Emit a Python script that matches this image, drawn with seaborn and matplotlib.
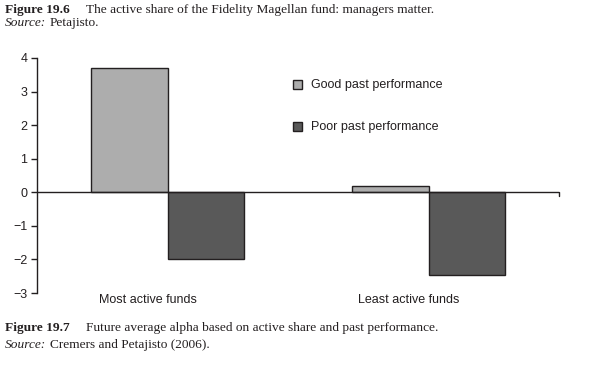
import matplotlib
matplotlib.use("Agg")
import matplotlib.pyplot as plt
import matplotlib.transforms as mtransforms
import seaborn as sns
import pandas as pd
from matplotlib.text import Annotation

categories = ["Most active funds", "Least active funds"]
series = ["Good past performance", "Poor past performance"]
good_values = [3.7, 0.2]
poor_values = [-2.0, -2.45]
y_ticks = [-3, -2, -1, 0, 1, 2, 3, 4]

df = pd.DataFrame({
    "category": categories * 2,
    "series": [series[0]] * 2 + [series[1]] * 2,
    "alpha": good_values + poor_values,
})

sns.set_style("white")
plt.rcParams["font.family"] = ["Liberation Sans", "DejaVu Sans"]

fig = plt.figure(figsize=(5.97, 3.67), dpi=100)
ax = fig.add_axes([37 / 597, 1 - 293 / 367, (559 - 37) / 597, (293 - 58) / 367])

palette = {series[0]: "#ADADAD", series[1]: "#595959"}
sns.barplot(data=df, x="category", y="alpha", hue="series", order=categories,
            hue_order=series, palette=palette, width=0.585, gap=0,
            edgecolor="#231F20", linewidth=1.0, saturation=1, ax=ax, legend=True)

ax.set_xlim(-0.5, 1.5)
ax.set_ylim(-3, 4)
ax.set_yticks(y_ticks)
ax.set_yticklabels([str(t).replace("-", "\u2212") for t in y_ticks], fontsize=9, color="#231F20")
ax.set_xlabel("")
ax.set_ylabel("")
ax.tick_params(axis="y", direction="out", length=4.5, width=1, color="#231F20", pad=2.5, left=True)
ax.tick_params(axis="x", length=0, pad=1, labelsize=9, labelcolor="#231F20")
# category labels sit a little left of the bar-group centres in the original
shift = mtransforms.ScaledTranslation(-20 / 100, 0, fig.dpi_scale_trans)
for lab in ax.get_xticklabels():
    lab.set_transform(lab.get_transform() + shift)

for s in ["top", "right", "bottom"]:
    ax.spines[s].set_visible(False)
ax.spines["left"].set_color("#231F20")
ax.spines["left"].set_linewidth(1)
ax.axhline(0, color="#231F20", lw=1, zorder=5)
# small tick at right end of zero line
ax.plot([1.5, 1.5], [0, -0.12], color="#231F20", lw=1, clip_on=False, zorder=5)

leg = ax.legend(loc="upper left", bbox_to_anchor=(0.48, 0.93), frameon=False,
                fontsize=9, handlelength=0.75, handleheight=0.75, handletextpad=0.7,
                labelspacing=2.4, borderaxespad=0)
for h in leg.legend_handles:
    h.set_edgecolor("#231F20")
    h.set_linewidth(1.0)
for t in leg.get_texts():
    t.set_color("#231F20")

serif = ["Liberation Serif", "DejaVu Serif"]
fs = 9.6


def follow(prev, text, gap, **kw):
    a = Annotation(text, xy=(1, 0), xycoords=prev, xytext=(gap, 0), textcoords="offset points",
                   fontfamily=serif, fontsize=fs, va="bottom", ha="left", color="#231F20", **kw)
    fig.add_artist(a)
    return a


t1 = fig.text(5 / 597, 1 - 10 / 367, "Figure 19.6", fontfamily=serif, fontweight="bold",
              fontsize=fs, va="center", ha="left", color="#231F20")
follow(t1, "The active share of the Fidelity Magellan fund: managers matter.", 12)
t2 = fig.text(5 / 597, 1 - 23 / 367, "Source:", fontfamily=serif, fontstyle="italic",
              fontsize=fs, va="center", ha="left", color="#231F20")
follow(t2, "Petajisto.", 2.5)

t3 = fig.text(5 / 597, 1 - 328 / 367, "Figure 19.7", fontfamily=serif, fontweight="bold",
              fontsize=fs, va="center", ha="left", color="#231F20")
follow(t3, "Future average alpha based on active share and past performance.", 12)
t4 = fig.text(5 / 597, 1 - 345 / 367, "Source:", fontfamily=serif, fontstyle="italic",
              fontsize=fs, va="center", ha="left", color="#231F20")
follow(t4, "Cremers and Petajisto (2006).", 2.5)

fig.savefig("out.png", dpi=100)
